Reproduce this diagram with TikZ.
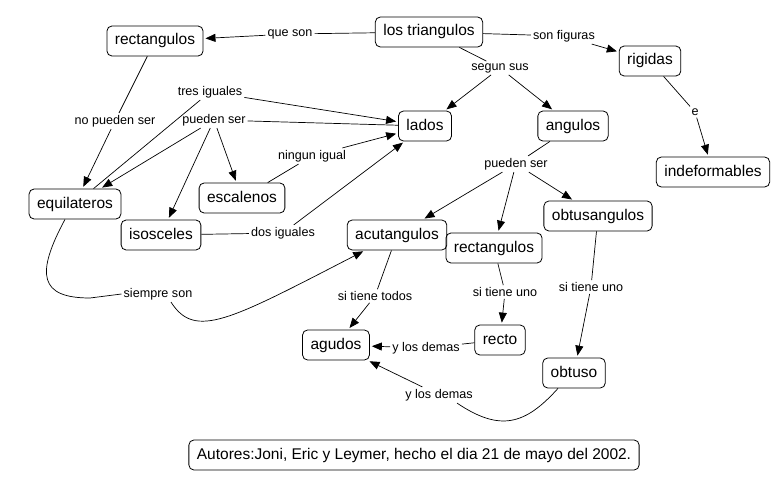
\documentclass[tikz,border=0pt]{standalone}
\usepackage{fontspec}
\setmainfont{Liberation Sans}
\usetikzlibrary{arrows.meta}

\begin{document}
\begin{tikzpicture}[x=1pt,y=-1pt,
	concepto/.style={draw, rounded corners=5pt, line width=0.8pt, font=\fontsize{15.5}{18}\selectfont, inner xsep=8pt, text height=11pt, text depth=3pt, minimum height=30pt},
	enlace/.style={font=\fontsize{12.6}{14}\selectfont, inner sep=2pt},
	linea/.style={line width=0.7pt},
	flecha/.style={line width=0.7pt, -{Triangle[length=10pt,width=8pt]}, shorten >=2pt}]
				% lienzo
				\fill[white] (0,0) rectangle (780,487);
				% conceptos
				\node[concepto] (triang) at (429,32) {los triangulos};
				\node[concepto] (rectA) at (155,41) {rectangulos};
				\node[concepto] (rigidas) at (650,61) {rigidas};
				\node[concepto] (indef) at (713,172) {indeformables};
				\node[concepto] (lados) at (425,126) {lados};
				\node[concepto] (angulos) at (573,126) {angulos};
				\node[concepto] (equil) at (75,204) {equilateros};
				\node[concepto] (escal) at (242,198) {escalenos};
				\node[concepto] (isosc) at (161,235) {isosceles};
				\node[concepto] (acut) at (397,235) {acutangulos};
				\node[concepto] (rectB) at (494,248) {rectangulos};
				\node[concepto] (obtusang) at (598,216) {obtusangulos};
				\node[concepto] (agudos) at (336,345) {agudos};
				\node[concepto] (recto) at (500,340) {recto};
				\node[concepto] (obtuso) at (574,373) {obtuso};
				\node[concepto] (autores) at (414,455) {Autores:Joni, Eric y Leymer, hecho el dia 21 de mayo del 2002.};
				% frases de enlace
				\node[enlace] (queson) at (290,34) {que son};
				\node[enlace] (sonfig) at (564,36) {son figuras};
				\node[enlace] (segun) at (500,68) {segun sus};
				\node[enlace] (e) at (695,112) {e};
				\node[enlace] (puedenB) at (516,164) {pueden ser};
				\node[enlace] (tres) at (210,92) {tres iguales};
				\node[enlace] (puedenA) at (214,120) {pueden ser};
				\node[enlace] (nopueden) at (115,121) {no pueden ser};
				\node[enlace] (ningun) at (312,156) {ningun igual};
				\node[enlace] (dos) at (283,233) {dos iguales};
				\node[enlace] (siempre) at (158,294) {siempre son};
				\node[enlace] (todos) at (375,296) {si tiene todos};
				\node[enlace] (unoA) at (505,292) {si tiene uno};
				\node[enlace] (unoB) at (591,287) {si tiene uno};
				\node[enlace] (demasA) at (426,348) {y los demas};
				\node[enlace] (demasB) at (439,395) {y los demas};
				% los triangulos
				\draw[linea] (triang) -- (queson);
				\draw[flecha] (queson) -- (rectA);
				\draw[linea] (triang) -- (sonfig);
				\draw[flecha] (sonfig) -- (rigidas);
				\draw[linea] (triang) -- (segun);
				\draw[flecha] (segun) -- (lados);
				\draw[flecha] (segun) -- (angulos);
				\draw[linea] (rigidas) -- (e);
				\draw[flecha] (e) -- (indef);
				% lados
				\draw[linea] (rectA) -- (nopueden);
				\draw[flecha] (nopueden) -- (equil);
				\draw[linea] (lados) -- (puedenA);
				\draw[flecha] (puedenA) -- (equil);
				\draw[flecha] (puedenA) -- (isosc);
				\draw[flecha] (puedenA) -- (escal);
				\draw[linea] (equil) -- (tres);
				\draw[flecha] (tres) -- (lados);
				\draw[linea] (escal) -- (ningun);
				\draw[flecha] (ningun) -- (lados);
				\draw[linea] (isosc) -- (dos);
				\draw[flecha] (dos) -- (lados);
				% angulos
				\draw[linea] (angulos) -- (puedenB);
				\draw[flecha] (puedenB) -- (acut);
				\draw[flecha] (puedenB) -- (rectB);
				\draw[flecha] (puedenB) -- (obtusang);
				\draw[linea] (acut) -- (todos);
				\draw[flecha] (todos) -- (agudos);
				\draw[linea] (rectB) -- (unoA);
				\draw[flecha] (unoA) -- (recto);
				\draw[linea] (obtusang) -- (unoB);
				\draw[flecha] (unoB) -- (obtuso);
				\draw[linea] (recto) -- (demasA);
				\draw[flecha] (demasA) -- (agudos);
				\draw[linea] ([xshift=-16pt]obtuso.south) .. controls (525,425) and (500,432) .. ([xshift=18pt]demasB.south);
				\draw[flecha] (demasB) -- (agudos);
				% curva de siempre son
				\draw[linea] ([xshift=-10pt]equil.south) .. controls (35,275) and (40,298) .. (90,298) -- (siempre.west);
				\draw[flecha] ([xshift=13pt]siempre.south) .. controls (195,340) and (230,320) .. ([xshift=-32pt]acut.south);
			\end{tikzpicture}
\end{document}
